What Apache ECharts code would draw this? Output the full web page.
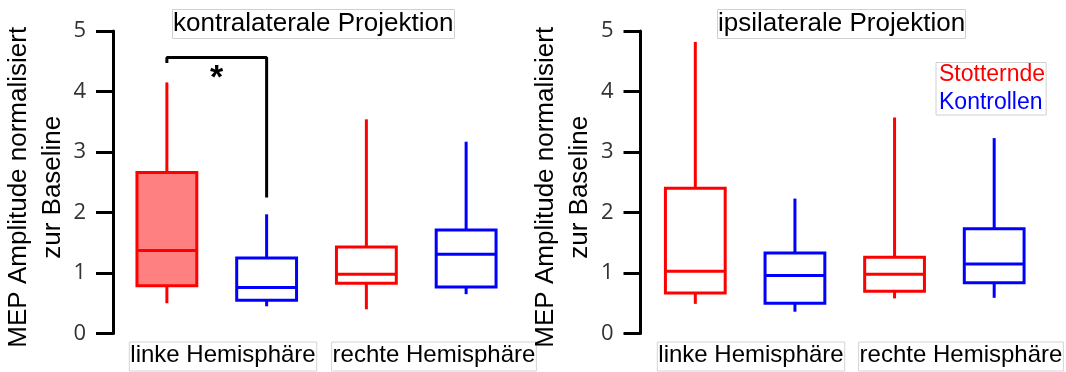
<!DOCTYPE html>
<html>
<head>
<meta charset="utf-8">
<script src="https://cdn.jsdelivr.net/npm/echarts@6/dist/echarts.min.js"></script>
<style>
  html, body { margin: 0; background: #fff; }
  #chart { width: 1066px; height: 372px; }
</style>
</head>
<body>
<div id="chart"></div>
<script>
const panelTitles = ['kontralaterale Projektion', 'ipsilaterale Projektion']
const hemiLabels = ['linke Hemisphäre', 'rechte Hemisphäre']
const groups = ['Stotternde', 'Kontrollen']
const yName = 'MEP Amplitude normalisiert\nzur Baseline'

// [min, Q1, median, Q3, max] - one row per hemisphere (links, rechts)
const contraStotternde = [[0.50, 0.79, 1.37, 2.66, 4.15], [0.40, 0.83, 0.98, 1.43, 3.54]]
const contraKontrollen = [[0.45, 0.55, 0.76, 1.25, 1.97], [0.65, 0.77, 1.31, 1.71, 3.17]]
const ipsiStotternde = [[0.49, 0.67, 1.03, 2.40, 4.82], [0.58, 0.70, 0.98, 1.26, 3.57]]
const ipsiKontrollen = [[0.36, 0.50, 0.96, 1.33, 2.23], [0.59, 0.84, 1.15, 1.73, 3.23]]

// significance bracket (kontralateral, linke Hemisphäre): left end, top, right end
const bracketValues = [4.47, 4.56, 2.25]

const RED = '#ff0000'
const BLUE = '#0000ff'
const FONT = 'Liberation Sans, Arial, sans-serif'

let myChart = echarts.init(document.getElementById('chart'))

function makeBoxSeries(name, gridIdx, rows, offset, color, filledRow) {
    return {
        type: 'custom',
        name: name,
        xAxisIndex: gridIdx,
        yAxisIndex: gridIdx,
        itemStyle: { color: color },
        encode: { x: 0, y: [1, 2, 3, 4, 5] },
        data: rows.map((r, i) => [i * 2 + offset].concat(r)),
        renderItem: function (params, api) {
            let x = api.value(0)
            let lo = api.coord([x, api.value(1)])
            let q1 = api.coord([x, api.value(2)])
            let med = api.coord([x, api.value(3)])
            let q3 = api.coord([x, api.value(4)])
            let hi = api.coord([x, api.value(5)])
            let w = api.size([1, 0])[0] * 0.6
            let cx = lo[0]
            let line = { stroke: color, lineWidth: 3 }
            return {
                type: 'group',
                children: [
                    { type: 'line', shape: { x1: cx, y1: q3[1], x2: cx, y2: hi[1] }, style: line },
                    { type: 'line', shape: { x1: cx, y1: q1[1], x2: cx, y2: lo[1] }, style: line },
                    {
                        type: 'rect',
                        shape: { x: cx - w / 2, y: q3[1], width: w, height: q1[1] - q3[1] },
                        style: { fill: params.dataIndex === filledRow ? '#ff8080' : '#fff', stroke: color, lineWidth: 3 }
                    },
                    { type: 'line', shape: { x1: cx - w / 2, y1: med[1], x2: cx + w / 2, y2: med[1] }, style: line }
                ]
            }
        }
    }
}

function yAxisFor(gridIdx, offset) {
    return {
        type: 'value',
        gridIndex: gridIdx,
        min: 0,
        max: 5,
        interval: 1,
        offset: offset,
        name: yName,
        nameLocation: 'middle',
        nameRotate: 90,
        nameGap: 39,
        nameTextStyle: { fontFamily: FONT, fontSize: 26, color: '#000', lineHeight: 34, padding: [0, 10, 0, 0] },
        axisLine: { show: true, lineStyle: { color: '#000', width: 3 } },
        axisTick: { show: true, length: 17, lineStyle: { color: '#000', width: 3 } },
        axisLabel: { margin: 27, fontFamily: 'Open Sans', fontSize: 22, color: '#333' },
        splitLine: { show: false }
    }
}

function xAxisFor(gridIdx) {
    return {
        type: 'category',
        gridIndex: gridIdx,
        data: ['0', '1', '2', '3'],
        axisLine: { show: false },
        axisTick: { show: false },
        axisLabel: { show: false }
    }
}

// hemisphere labels under each pair of boxes
let hemiCenters = [[223, 434], [751, 961]]
let hemiGraphics = []
hemiCenters.forEach(centers => {
    centers.forEach((cx, i) => {
        hemiGraphics.push({
            type: 'text',
            x: cx,
            y: 342,
            style: {
                text: hemiLabels[i],
                align: 'center',
                verticalAlign: 'top',
                font: '24px ' + FONT,
                fill: '#000',
                padding: [1, 1, 4, 1],
                borderColor: '#d4d4d4',
                borderWidth: 1
            }
        })
    })
})

function titleFor(i, left) {
    return {
        text: panelTitles[i], left: left, top: 9, padding: [1, 1, 1, 1],
        borderColor: '#d0d0d0', borderWidth: 1,
        textStyle: { fontFamily: FONT, fontSize: 26, fontWeight: 'normal', color: '#000', lineHeight: 28 }
    }
}

let option = {
    animation: false,
    title: [titleFor(0, 172), titleFor(1, 717)],
    legend: {
        orient: 'vertical',
        left: 936,
        top: 62.5,
        icon: 'none',
        itemWidth: -3,
        itemHeight: 0,
        itemGap: 4.5,
        padding: [0, 1, 0, 1],
        borderColor: '#d0d0d0',
        borderWidth: 1,
        selectedMode: false,
        textStyle: { fontFamily: FONT, fontSize: 23, lineHeight: 24 },
        data: [
            { name: groups[0], textStyle: { color: RED } },
            { name: groups[1], textStyle: { color: BLUE } }
        ]
    },
    grid: [
        { left: 117, top: 31, width: 399, height: 302.5 },
        { left: 645.5, top: 31, width: 398.5, height: 302.5 }
    ],
    xAxis: [xAxisFor(0), xAxisFor(1)],
    yAxis: [yAxisFor(0, 4), yAxisFor(1, 5)],
    graphic: hemiGraphics,
    series: [
        makeBoxSeries(groups[0], 0, contraStotternde, 0, RED, 0),
        makeBoxSeries(groups[1], 0, contraKontrollen, 1, BLUE, -1),
        makeBoxSeries(groups[0], 1, ipsiStotternde, 0, RED, -1),
        makeBoxSeries(groups[1], 1, ipsiKontrollen, 1, BLUE, -1),
        {
            type: 'line',
            xAxisIndex: 0,
            yAxisIndex: 0,
            symbol: 'circle',
            symbolSize: 0,
            silent: true,
            lineStyle: { color: '#000', width: 3 },
            itemStyle: { color: '#000' },
            data: [
                [0, bracketValues[0]],
                [0, bracketValues[1]],
                {
                    value: [1, bracketValues[1]],
                    label: {
                        show: true, formatter: '*', position: 'inside', offset: [-50, 21],
                        fontFamily: FONT, fontSize: 34, fontWeight: 'bold', color: '#000'
                    }
                },
                [1, bracketValues[2]]
            ]
        }
    ]
}
myChart.setOption(option)
</script>
</body>
</html>
